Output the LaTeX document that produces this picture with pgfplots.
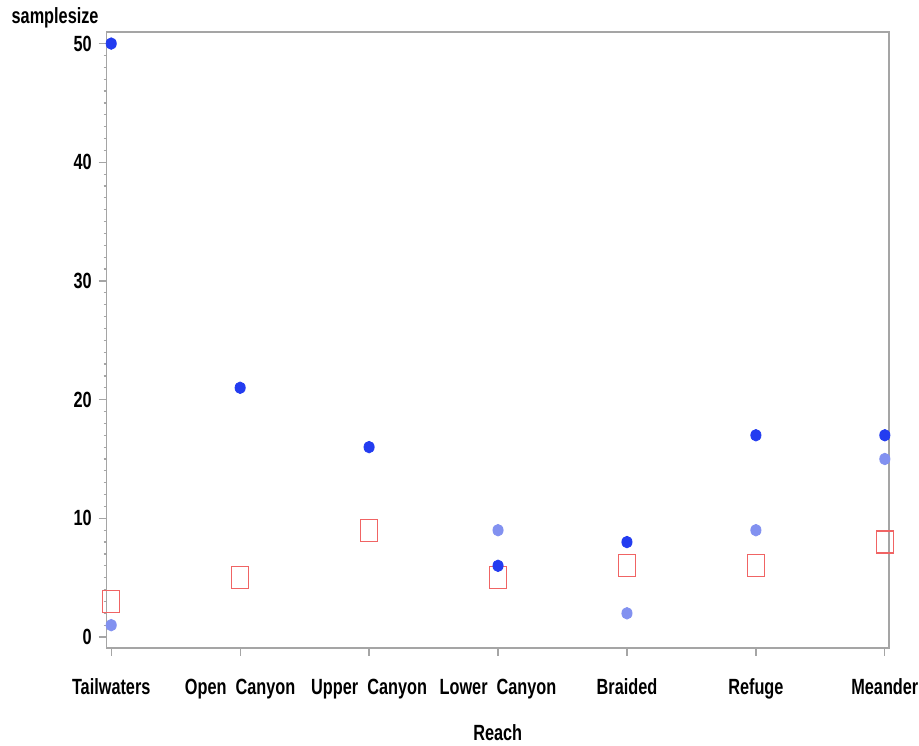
\documentclass[border=0pt]{standalone}
\usepackage{fontspec}
\setmainfont{Liberation Sans}[FakeStretch=0.74]
\usepackage{pgfplots}
\pgfplotsset{compat=1.18}
\definecolor{darkdot}{RGB}{35,60,240}
\definecolor{lightdot}{RGB}{130,145,240}
\definecolor{sqred}{RGB}{240,100,100}
\definecolor{axgray}{RGB}{165,165,165}
\begin{document}
\begin{tikzpicture}
\useasboundingbox (-53.35pt,-48.65pt) rectangle (406.15pt,323.85pt);
\begin{axis}[
  at={(0,0)}, anchor=south west,
  scale only axis, width=391pt, height=307.7pt,
  xmin=-0.035, xmax=6.03, ymin=-0.9, ymax=50.95,
  xtick={0,...,6},
  xticklabels={Tailwaters, Open\ \ Canyon, Upper\ \ Canyon, Lower\ \ Canyon, Braided, Refuge, Meander},
  ytick={0,10,...,50}, minor y tick num=9,
  tick align=outside, xtick pos=lower, ytick pos=left,
  major tick length=4pt, minor tick length=1.5pt,
  axis line style={axgray, line width=0.8pt},
  every tick/.style={axgray, line width=0.6pt},
  tick label style={font=\fontsize{11}{13}\selectfont\bfseries},
  xticklabel style={yshift=-8pt},
  /pgf/number format/assume math mode=true,
  clip=false,
]
\addplot[only marks, mark=square, mark size=5.5pt, mark options={xscale=0.78, draw=sqred, line width=0.6pt}]
  coordinates {(0,3) (1,5) (2,9) (3,5) (4,6) (5,6) (6,8)};
\addplot[only marks, mark=*, mark size=2.9pt, mark options={draw=lightdot, fill=lightdot, xscale=0.88}]
  coordinates {(0,1) (3,9) (4,2) (5,9) (6,15)};
\addplot[only marks, mark=*, mark size=2.9pt, mark options={draw=darkdot, fill=darkdot, xscale=0.88}]
  coordinates {(0,50) (1,21) (2,16) (3,6) (4,8) (5,17) (6,17)};
\node[font=\fontsize{11}{13}\selectfont\bfseries, anchor=center] at (rel axis cs:0,1) [xshift=-25.8pt, yshift=7.2pt] {samplesize};
\node[font=\fontsize{11}{13}\selectfont\bfseries, anchor=center] at (rel axis cs:0.5,0) [yshift=-42.5pt] {Reach};
\end{axis}
\end{tikzpicture}
\end{document}
